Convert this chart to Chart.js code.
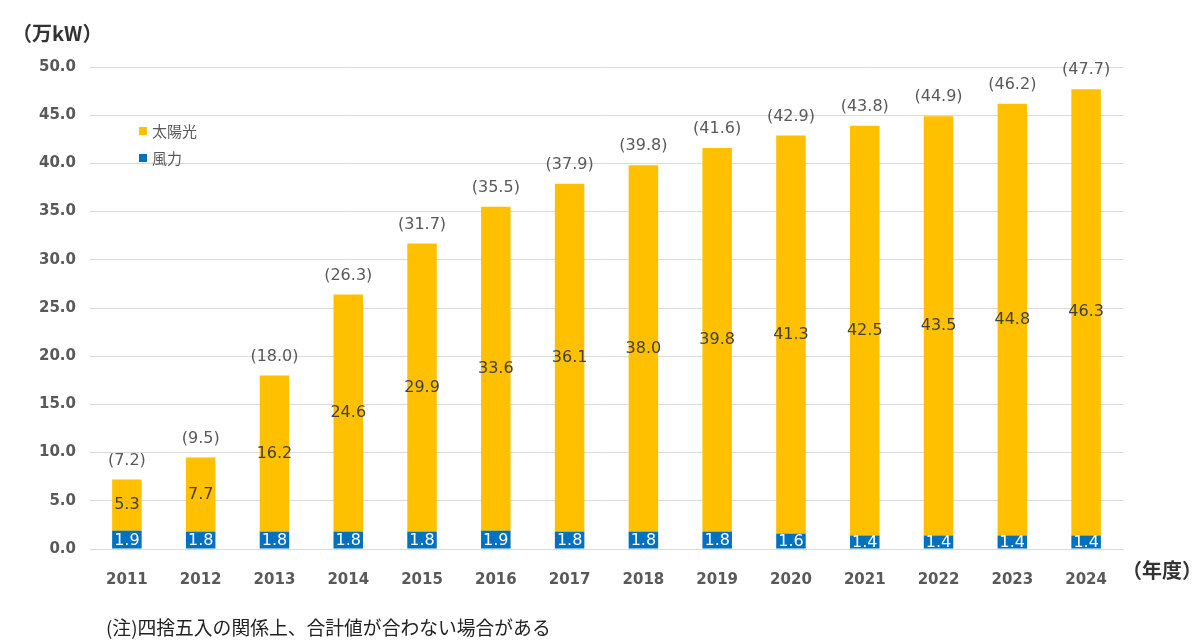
<!DOCTYPE html>
<html lang="ja">
<head>
<meta charset="utf-8">
<script src="https://cdn.jsdelivr.net/npm/chart.js@4"></script>
<style>
  html, body { margin: 0; padding: 0; background: #fff; }
  #wrap { width: 1200px; height: 644px; position: relative; }
</style>
</head>
<body>
<div id="wrap"><canvas id="chart"></canvas></div>
<script>
// 年度別の導入量（万kW）
const years = ['2011', '2012', '2013', '2014', '2015', '2016', '2017', '2018', '2019', '2020', '2021', '2022', '2023', '2024'];
const wind = [1.9, 1.8, 1.8, 1.8, 1.8, 1.9, 1.8, 1.8, 1.8, 1.6, 1.4, 1.4, 1.4, 1.4];
const solar = [5.3, 7.7, 16.2, 24.6, 29.9, 33.6, 36.1, 38.0, 39.8, 41.3, 42.5, 43.5, 44.8, 46.3];
const totals = [7.2, 9.5, 18.0, 26.3, 31.7, 35.5, 37.9, 39.8, 41.6, 42.9, 43.8, 44.9, 46.2, 47.7];
const yTicks = [0, 5, 10, 15, 20, 25, 30, 35, 40, 45, 50];

const SOLAR = '#FFC000';
const WIND = '#0070C0';
const GRAY = '#595959';
const NUM_FONT = '"DejaVu Sans", Verdana, sans-serif';
const JP_FONT = '"Noto Sans CJK JP", "Noto Sans", sans-serif';

// 棒の中と上に数値を描く
const labelPlugin = {
    id: 'labels',
    afterDatasetsDraw(chart) {
        const ctx = chart.ctx;
        ctx.save();
        ctx.textAlign = 'center';
        ctx.textBaseline = 'middle';
        ctx.font = '16px ' + NUM_FONT;

        const windMeta = chart.getDatasetMeta(0);
        const solarMeta = chart.getDatasetMeta(1);

        windMeta.data.forEach((bar, i) => {
            ctx.fillStyle = '#ffffff';
            ctx.fillText(wind[i].toFixed(1), bar.x, (bar.y + bar.base) / 2 + 1);
        });
        solarMeta.data.forEach((bar, i) => {
            ctx.fillStyle = '#404040';
            ctx.fillText(solar[i].toFixed(1), bar.x, (bar.y + bar.base) / 2);
            ctx.fillStyle = GRAY;
            ctx.fillText('(' + totals[i].toFixed(1) + ')', bar.x, bar.y - 19);
        });
        ctx.restore();
    }
};

// 凡例・単位・注記
const textPlugin = {
    id: 'texts',
    afterDraw(chart) {
        const ctx = chart.ctx;
        ctx.save();
        ctx.textBaseline = 'middle';

        const items = [
            { label: chart.data.datasets[1].label, color: SOLAR, y: 131 },
            { label: chart.data.datasets[0].label, color: WIND, y: 158 }
        ];
        items.forEach(it => {
            ctx.fillStyle = it.color;
            ctx.fillRect(139, it.y - 4, 8, 8);
            ctx.fillStyle = GRAY;
            ctx.font = '15px ' + JP_FONT;
            ctx.textAlign = 'left';
            ctx.fillText(it.label, 152, it.y);
        });

        ctx.fillStyle = '#333333';
        ctx.font = 'bold 20px ' + JP_FONT;
        ctx.textAlign = 'left';
        ctx.fillText('（万kW）', 12, 33);
        ctx.fillText('（年度）', 1122, 570);

        ctx.fillStyle = '#222222';
        ctx.font = '18.8px ' + JP_FONT;
        ctx.fillText('(注)四捨五入の関係上、合計値が合わない場合がある', 106, 628);
        ctx.restore();
    }
};

new Chart(document.getElementById('chart'), {
    type: 'bar',
    data: {
        labels: years,
        datasets: [
            { label: '風力', data: wind, backgroundColor: WIND, categoryPercentage: 1, barPercentage: 0.4 },
            { label: '太陽光', data: solar, backgroundColor: SOLAR, categoryPercentage: 1, barPercentage: 0.4 }
        ]
    },
    options: {
        responsive: true,
        maintainAspectRatio: false,
        animation: false,
        layout: { padding: { left: 0, right: 77, top: 67, bottom: 0 } },
        plugins: { legend: { display: false }, tooltip: { enabled: false } },
        scales: {
            x: {
                stacked: true,
                grid: { display: false },
                border: { display: true, color: '#d9d9d9', width: 1 },
                ticks: { color: GRAY, padding: 14, font: { family: NUM_FONT, size: 15, weight: 'bold' } },
                afterFit(scale) { scale.height = 95; }
            },
            y: {
                stacked: true,
                min: 0,
                max: 50,
                afterBuildTicks(scale) { scale.ticks = yTicks.map(v => ({ value: v })); },
                grid: { color: '#d9d9d9', lineWidth: 1, drawTicks: false },
                border: { display: false },
                ticks: {
                    color: GRAY,
                    padding: 14,
                    font: { family: NUM_FONT, size: 15, weight: 'bold' },
                    callback: v => Number(v).toFixed(1)
                },
                afterFit(scale) { scale.width = 90; }
            }
        }
    },
    plugins: [labelPlugin, textPlugin]
});
</script>
</body>
</html>
